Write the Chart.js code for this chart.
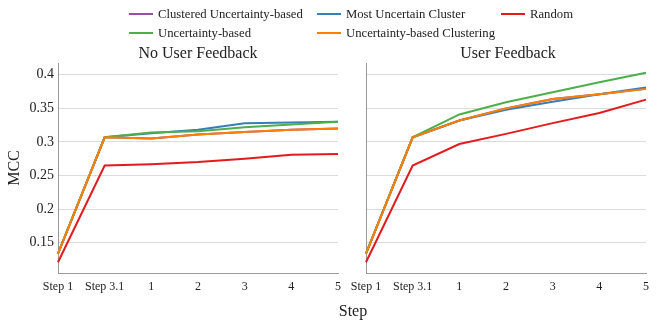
<!DOCTYPE html>
<html lang="en">
<head>
    <meta charset="UTF-8">
    <title>MCC per Step</title>
    <script src="https://cdn.jsdelivr.net/npm/chart.js"></script>
    <style>
        body {
            margin: 0;
            background: #fff;
            font-family: 'Liberation Serif', 'DejaVu Serif', serif;
            color: #222;
        }
        .wrap {
            position: relative;
            width: 664px;
            height: 332px;
        }
        .wrap canvas {
            position: absolute;
            left: 0;
            top: 0;
        }
        .legend-item {
            position: absolute;
            font-size: 12.7px;
            line-height: 16px;
            white-space: nowrap;
        }
        .legend-item span.swatch {
            display: inline-block;
            width: 24px;
            height: 2px;
            vertical-align: middle;
            margin-right: 5px;
            margin-top: -2px;
        }
        .label {
            position: absolute;
            font-size: 16px;
            line-height: 18px;
            white-space: nowrap;
            transform: translateX(-50%);
        }
    </style>
</head>
<body>
<div class="wrap">
    <canvas id="left" width="664" height="332"></canvas>
    <canvas id="right" width="664" height="332"></canvas>

    <div class="legend-item" style="left:129px; top:6px;"><span class="swatch" style="background:#984ea3"></span>Clustered Uncertainty-based</div>
    <div class="legend-item" style="left:317px; top:6px;"><span class="swatch" style="background:#377eb8"></span>Most Uncertain Cluster</div>
    <div class="legend-item" style="left:501px; top:6px;"><span class="swatch" style="background:#e41a1c"></span>Random</div>
    <div class="legend-item" style="left:129px; top:25px;"><span class="swatch" style="background:#4daf4a"></span>Uncertainty-based</div>
    <div class="legend-item" style="left:317px; top:25px;"><span class="swatch" style="background:#ff7f00"></span>Uncertainty-based Clustering</div>

    <div class="label" style="left:198px; top:44px;">No User Feedback</div>
    <div class="label" style="left:508px; top:44px;">User Feedback</div>
    <div class="label" style="left:353px; top:302px;">Step</div>
</div>

<script>
    // Categories and tick values
    const steps = ['Step 1', 'Step 3.1', '1', '2', '3', '4', '5'];
    const yTicks = [0.15, 0.2, 0.25, 0.3, 0.35, 0.4];

    // No User Feedback panel
    const noFbClusteredUnc = [0.134, 0.307, 0.305, 0.311, 0.315, 0.318, 0.320];
    const noFbMostUncCluster = [0.134, 0.307, 0.313, 0.318, 0.328, 0.329, 0.330];
    const noFbRandom = [0.121, 0.265, 0.267, 0.270, 0.275, 0.281, 0.282];
    const noFbUncertainty = [0.134, 0.307, 0.314, 0.316, 0.322, 0.326, 0.330];
    const noFbUncClustering = [0.134, 0.307, 0.305, 0.311, 0.315, 0.318, 0.320];

    // User Feedback panel
    const fbClusteredUnc = [0.134, 0.307, 0.332, 0.350, 0.364, 0.371, 0.379];
    const fbMostUncCluster = [0.134, 0.307, 0.332, 0.348, 0.360, 0.371, 0.381];
    const fbRandom = [0.121, 0.265, 0.297, 0.312, 0.328, 0.343, 0.363];
    const fbUncertainty = [0.134, 0.307, 0.341, 0.359, 0.374, 0.389, 0.403];
    const fbUncClustering = [0.134, 0.307, 0.332, 0.350, 0.364, 0.371, 0.379];

    const colors = {
        clustered: '#984ea3',
        mostUnc: '#377eb8',
        random: '#e41a1c',
        unc: '#4daf4a',
        uncClust: '#ff7f00'
    };

    const serif = "'Liberation Serif', serif";

    function line(label, data, color) {
        return {
            label: label,
            data: data,
            borderColor: color,
            backgroundColor: color,
            borderWidth: 2,
            pointRadius: 0,
            tension: 0,
            fill: false
        };
    }

    // first dataset is drawn on top
    function makeDatasets(clustered, mostUnc, random, unc, uncClust) {
        return [
            line('Uncertainty-based Clustering', uncClust, colors.uncClust),
            line('Uncertainty-based', unc, colors.unc),
            line('Random', random, colors.random),
            line('Most Uncertain Cluster', mostUnc, colors.mostUnc),
            line('Clustered Uncertainty-based', clustered, colors.clustered)
        ];
    }

    function makeChart(id, datasets, leftWidth, rightPad, showY) {
        return new Chart(document.getElementById(id), {
            type: 'line',
            data: { labels: steps, datasets: datasets },
            options: {
                responsive: false,
                animation: false,
                layout: { padding: { top: 63, right: rightPad, bottom: 0, left: 0 } },
                plugins: { legend: { display: false }, tooltip: { enabled: false } },
                scales: {
                    x: {
                        offset: false,
                        grid: { display: false, drawTicks: false },
                        border: { color: '#999', width: 1 },
                        ticks: {
                            autoSkip: false,
                            maxRotation: 0,
                            padding: 7,
                            color: '#222',
                            font: { family: serif, size: 12 }
                        },
                        afterFit: s => { s.height = 59; }
                    },
                    y: {
                        min: 0.105,
                        max: 0.4175,
                        grid: { color: '#dcdcdc', lineWidth: 1, drawTicks: false },
                        border: { color: '#999', width: 1 },
                        afterBuildTicks: s => { s.ticks = yTicks.map(v => ({ value: v })); },
                        ticks: {
                            display: showY,
                            padding: 4,
                            color: '#222',
                            font: { family: serif, size: 14 },
                            callback: v => String(v)
                        },
                        title: {
                            display: showY,
                            text: 'MCC',
                            color: '#222',
                            padding: { top: 5, bottom: 0 },
                            font: { family: serif, size: 16 }
                        },
                        afterFit: s => { s.width = leftWidth; }
                    }
                }
            }
        });
    }

    makeChart('left',
        makeDatasets(noFbClusteredUnc, noFbMostUncCluster, noFbRandom, noFbUncertainty, noFbUncClustering),
        58, 664 - 338, true);

    makeChart('right',
        makeDatasets(fbClusteredUnc, fbMostUncCluster, fbRandom, fbUncertainty, fbUncClustering),
        366, 664 - 646, false);
</script>
</body>
</html>
